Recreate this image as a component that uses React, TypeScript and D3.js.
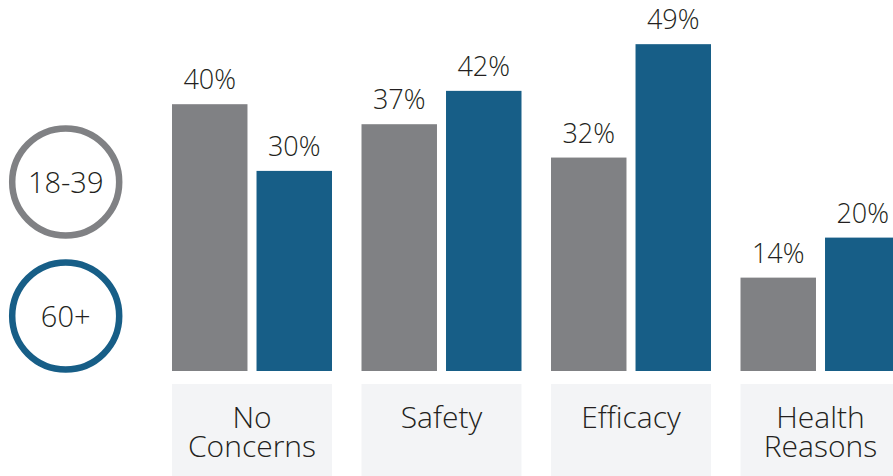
import React from "react";
import * as d3 from "d3";

const categories: string[][] = [["No", "Concerns"], ["Safety"], ["Efficacy"], ["Health", "Reasons"]];
const categoryKeys = ["No Concerns", "Safety", "Efficacy", "Health Reasons"];
const seriesNames = ["18-39", "60+"];
const values1839 = [40, 37, 32, 14];
const values60 = [30, 42, 49, 20];
const colors = ["#808184", "#175e87"];

const W = 893;
const H = 476;
const FONT = "'Open Sans', sans-serif";
const TEXT = "#231f20";

export default function App() {
  const x0 = d3.scaleBand<string>().domain(categoryKeys).range([172, 900.5]).paddingInner(0.1557).paddingOuter(0);
  const x1 = d3.scaleBand<string>().domain(seriesNames).range([0, x0.bandwidth()]).paddingInner(0.107).paddingOuter(0);
  const y = d3.scaleLinear().domain([0, 50]).range([371, 37.5]);
  const seriesVals = [values1839, values60];
  const legendY = d3.scalePoint<string>().domain(seriesNames).range([182, 316]);

  return (
    <svg width={W} height={H} style={{ position: "absolute", left: 0, top: 0, background: "#fff" }}>
      {seriesNames.map((s, i) => (
        <g key={s}>
          <circle cx={65.7} cy={legendY(s)} r={53.5} fill="#fff" stroke={colors[i]} strokeWidth={6.5} />
          <text x={65.7} y={(legendY(s) as number) + 10.5} textAnchor="middle" fontFamily={FONT} fontWeight={300} fontSize={29} fill={TEXT}>
            {s}
          </text>
        </g>
      ))}
      {categoryKeys.map((c, ci) => {
        const gx = x0(c) as number;
        const cx = gx + x0.bandwidth() / 2;
        return (
          <g key={c}>
            <rect x={gx} y={384} width={x0.bandwidth()} height={H - 384 + 10} fill="#f3f4f6" />
            <text textAnchor="middle" fontFamily={FONT} fontWeight={300} fontSize={30} fill={TEXT}>
              {categories[ci].map((line, li) => (
                <tspan key={li} x={cx} y={428 + li * 29}>
                  {line}
                </tspan>
              ))}
            </text>
            {seriesNames.map((s, si) => {
              const v = seriesVals[si][ci];
              const bx = gx + (x1(s) as number);
              return (
                <g key={s}>
                  <rect x={bx} y={y(v)} width={x1.bandwidth()} height={y(0) - y(v)} fill={colors[si]} />
                  <text x={bx + x1.bandwidth() / 2} y={y(v) - 15} textAnchor="middle" fontFamily={FONT} fontWeight={300} fontSize={27} fill={TEXT}>
                    {v}%
                  </text>
                </g>
              );
            })}
          </g>
        );
      })}
    </svg>
  );
}
